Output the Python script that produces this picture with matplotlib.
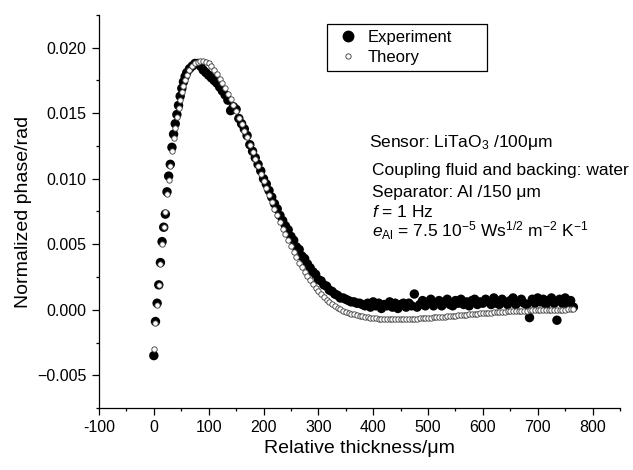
import matplotlib
matplotlib.use('Agg')
import matplotlib.pyplot as plt
from matplotlib.ticker import MultipleLocator, FuncFormatter
from matplotlib.lines import Line2D

# ---------------- data ----------------
x_pos = [0, 3, 6, 9, 12, 15, 18, 21, 24, 27,
         30, 33, 36, 39, 42, 45, 48, 51, 54, 57,
         60, 65, 70, 75, 80, 85, 90, 95, 100, 105,
         110, 115, 120, 125, 130, 135, 140, 145, 150, 155,
         160, 165, 170, 175, 180, 185, 190, 195, 200, 205,
         210, 215, 220, 225, 230, 235, 240, 245, 250, 255,
         260, 265, 270, 275, 280, 285, 290, 295, 300, 305,
         310, 315, 320, 325, 330, 335, 340, 345, 350, 355,
         360, 365, 370, 375, 380, 385, 390, 395, 400, 405,
         410, 415, 420, 425, 430, 435, 440, 445, 450, 455,
         460, 465, 470, 475, 480, 485, 490, 495, 500, 505,
         510, 515, 520, 525, 530, 535, 540, 545, 550, 555,
         560, 565, 570, 575, 580, 585, 590, 595, 600, 605,
         610, 615, 620, 625, 630, 635, 640, 645, 650, 655,
         660, 665, 670, 675, 680, 685, 690, 695, 700, 705,
         710, 715, 720, 725, 730, 735, 740, 745, 750, 755,
         760, 765]

theory_y = [-0.0030, -0.0010, 0.0004, 0.0019, 0.0035, 0.0050, 0.0063, 0.0075, 0.0088, 0.0099,
            0.0110, 0.0121, 0.0131, 0.0139, 0.0147, 0.0154, 0.0160, 0.0166, 0.0171, 0.0175,
            0.0179, 0.01830, 0.01860, 0.01880, 0.01893, 0.01900, 0.01900, 0.01893, 0.01880, 0.01860,
            0.01830, 0.01800, 0.01765, 0.01730, 0.01690, 0.01650, 0.01605, 0.01560, 0.01515, 0.01465,
            0.01415, 0.01365, 0.01315, 0.01260, 0.01205, 0.01150, 0.01095, 0.01040, 0.00985, 0.00930,
            0.00875, 0.00820, 0.00770, 0.00720, 0.00670, 0.00620, 0.00575, 0.00530, 0.00485, 0.00440,
            0.00400, 0.00360, 0.00325, 0.00290, 0.00255, 0.00225, 0.00195, 0.00168, 0.00142, 0.00118,
            0.00096, 0.00076, 0.00058, 0.00042, 0.00028, 0.00015, 0.00004, -0.00006, -0.00015, -0.00023,
            -0.00030, -0.00036, -0.00042, -0.00047, -0.00051, -0.00055, -0.00058, -0.00061, -0.00064, -0.00066,
            -0.00068, -0.00069, -0.00070, -0.00071, -0.00072, -0.00072, -0.00072, -0.00072, -0.00072, -0.00071,
            -0.00071, -0.00070, -0.00069, -0.00068, -0.00067, -0.00066, -0.00065, -0.00063, -0.00062, -0.00060,
            -0.00059, -0.00057, -0.00055, -0.00054, -0.00052, -0.00050, -0.00048, -0.00046, -0.00045, -0.00043,
            -0.00041, -0.00039, -0.00037, -0.00035, -0.00033, -0.00032, -0.00030, -0.00028, -0.00026, -0.00025,
            -0.00023, -0.00022, -0.00020, -0.00019, -0.00017, -0.00016, -0.00015, -0.00013, -0.00012, -0.00011,
            -0.00010, -0.00009, -0.00008, -0.00007, -0.00006, -0.00005, -0.00005, -0.00004, -0.00003, -0.00003,
            -0.00002, -0.00002, -0.00001, -0.00001, 0.00000, 0.00000, 0.00001, 0.00001, 0.00001, 0.00002,
            0.00002, 0.00002]

experiment_y = [-0.0035, -0.0009, 0.0005, 0.0019, 0.0036, 0.0052, 0.0063, 0.0073, 0.0090, 0.0102,
                0.0111, 0.0124, 0.0134, 0.0142, 0.0149, 0.0156, 0.0163, 0.0169, 0.0174, 0.0178,
                0.0181, 0.0184, 0.0186, 0.0188, 0.0188, 0.0186, 0.0183, 0.0181, 0.0179, 0.0177,
                0.0175, 0.0173, 0.0170, 0.0167, 0.0164, 0.0160, 0.0152, 0.0155, 0.0153, 0.0146,
                0.0142, 0.0138, 0.0133, 0.0126, 0.0121, 0.0116, 0.0111, 0.0106, 0.0100, 0.0096,
                0.0091, 0.0086, 0.0081, 0.0077, 0.0072, 0.0068, 0.0064, 0.0061, 0.0056, 0.0053,
                0.0048, 0.0046, 0.0041, 0.0039, 0.0035, 0.0032, 0.0029, 0.0027, 0.0023, 0.0022,
                0.0019, 0.0018, 0.0015, 0.0014, 0.0012, 0.0011, 0.0009, 0.0009, 0.0008, 0.0007,
                0.0006, 0.0006, 0.0005, 0.0005, 0.0004, 0.0003, 0.0005, 0.0002, 0.0006, 0.0003,
                0.0005, 0.0001, 0.0004, 0.0003, 0.0006, 0.0002, 0.0005, 0.0001, 0.0004, 0.0005,
                0.0002, 0.0005, 0.0003, 0.0012, 0.0002, 0.0004, 0.0007, 0.0003, 0.0006, 0.0008,
                0.0003, 0.0005, 0.0007, 0.0003, 0.0006, 0.0008, 0.0004, 0.0003, 0.0007, 0.0005,
                0.0008, 0.0004, 0.0006, 0.0003, 0.0007, 0.0008, 0.0004, 0.0006, 0.0005, 0.0008,
                0.0006, 0.0004, 0.0009, 0.0005, 0.0004, 0.0008, 0.0006, 0.0004, 0.0007, 0.0009,
                0.0004, 0.0006, 0.0008, 0.0005, 0.0004, -0.0006, 0.0008, 0.0005, 0.0009, 0.0006,
                0.0008, 0.0004, 0.0007, 0.0009, 0.0005, -0.0008, 0.0008, 0.0005, 0.0009, 0.0004,
                0.0007, 0.0002]

series_labels = ['Experiment', 'Theory']
x_label = 'Relative thickness/\u03bcm'
y_label = 'Normalized phase/rad'
annotation_lines = [
    'Sensor: LiTaO$_3$ /100\u03bcm',
    'Coupling fluid and backing: water',
    'Separator: Al /150 \u03bcm',
    '$f$ = 1 Hz',
    '$e_{\\mathrm{Al}}$ = 7.5 10$^{-5}$ Ws$^{1/2}$ m$^{-2}$ K$^{-1}$',
]

# ---------------- style ----------------
plt.rcParams['font.family'] = ['Liberation Sans', 'DejaVu Sans']
plt.rcParams['mathtext.fontset'] = 'custom'
plt.rcParams['mathtext.rm'] = 'Liberation Sans'
plt.rcParams['mathtext.it'] = 'Liberation Sans:italic'
plt.rcParams['mathtext.bf'] = 'Liberation Sans:bold'

W, H = 633, 470
fig = plt.figure(figsize=(W / 100, H / 100), dpi=100)
ax = fig.add_axes([99 / W, (H - 408) / H, 521 / W, 393 / H])

ax.scatter(x_pos, experiment_y, s=46, c='black', edgecolors='none', zorder=2)
ax.scatter(x_pos, theory_y, s=15, facecolors='white', edgecolors='#3a3a3a',
           linewidths=0.6, zorder=3)

ax.set_xlim(-100, 850)
ax.set_ylim(-0.0075, 0.0225)
for s in ['top', 'right']:
    ax.spines[s].set_visible(False)
for s in ['left', 'bottom']:
    ax.spines[s].set_linewidth(0.9)

ax.xaxis.set_major_locator(MultipleLocator(100))
ax.xaxis.set_minor_locator(MultipleLocator(50))
ax.yaxis.set_major_locator(MultipleLocator(0.005))
ax.yaxis.set_minor_locator(MultipleLocator(0.0025))
ax.xaxis.set_major_formatter(FuncFormatter(lambda v, p: f'{v:.0f}'))


def yfmt(v, p):
    s = f'{v:.3f}'
    if s.startswith('-'):
        s = '\u2212' + s[1:] if abs(v) > 1e-12 else s[1:]
    return s


ax.yaxis.set_major_formatter(FuncFormatter(yfmt))
ax.tick_params(which='major', direction='out', length=5, width=0.9, labelsize=11.5, pad=4)
ax.tick_params(which='minor', direction='out', length=2.5, width=0.9)

ax.set_xlabel(x_label, fontsize=14)
ax.set_ylabel(y_label, fontsize=14)
ax.xaxis.set_label_coords(0.5, (408 - 440) / 393)
ax.yaxis.set_label_coords((32 - 99) / 521, 0.5)

# annotation
ann_pos = [(369, 147), (372, 175), (372, 197), (372, 217), (372, 237)]
for txt, (px, py) in zip(annotation_lines, ann_pos):
    fig.text(px / W, 1 - py / H, txt, fontsize=12.5, ha='left', va='baseline')

# legend
handles = [Line2D([], [], marker='o', ls='none', color='black', markersize=7.5),
           Line2D([], [], marker='o', ls='none', mfc='white', mec='#333333',
                  markersize=3.8, mew=0.6)]
leg = ax.legend(handles, series_labels, loc='upper left',
                bbox_to_anchor=(327 / W, 1 - 75 / H, 160 / W, 51 / H),
                bbox_transform=fig.transFigure, mode='expand', borderaxespad=0,
                handletextpad=0.3, handlelength=1.8, labelspacing=0.3,
                borderpad=0.35, fontsize=12, fancybox=False, framealpha=1)
leg.get_frame().set_edgecolor('black')
leg.get_frame().set_linewidth(0.9)

fig.savefig('out.png', dpi=100)
